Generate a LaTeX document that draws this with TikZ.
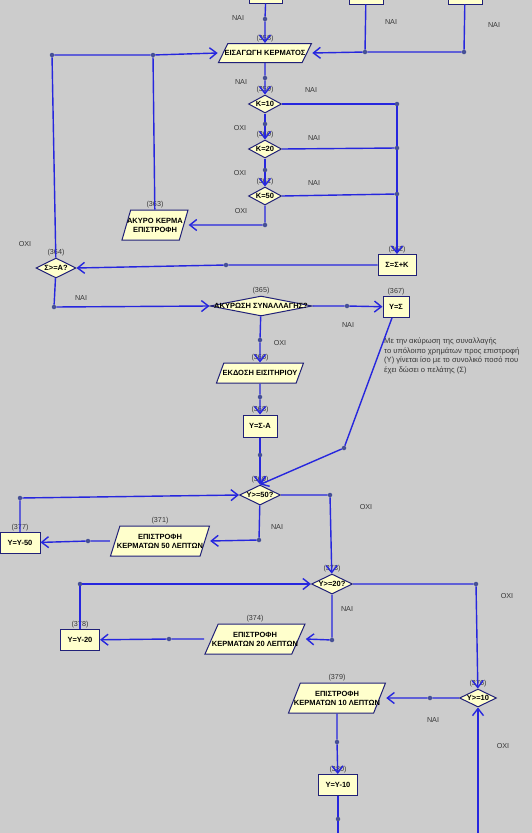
\documentclass[tikz,border=0pt]{standalone}
\usepackage{fontspec}
\setmainfont{Liberation Sans}
\usepackage{tikz}
\usetikzlibrary{arrows.meta, positioning, shapes.geometric}

\definecolor{bgc}{RGB}{204,204,204}
\definecolor{linec}{RGB}{38,38,222}
\definecolor{edgec}{RGB}{32,32,120}
\definecolor{fillc}{RGB}{255,255,204}
\definecolor{dotc}{RGB}{70,80,150}
\definecolor{numc}{RGB}{55,55,55}

\begin{document}
\begin{tikzpicture}[
    x=1pt, y=-1pt,
    proc/.style={rectangle, draw=edgec, fill=fillc, line width=1pt, inner sep=0pt, minimum width=#1, minimum height=21pt, font=\fontsize{7.5}{8.5}\selectfont\bfseries},
    io/.style 2 args={trapezium, trapezium left angle=#1, trapezium right angle=#2, trapezium stretches body, draw=edgec, fill=fillc, line width=1pt, inner xsep=-30pt, inner ysep=1pt, align=center, font=\fontsize{7.5}{9}\selectfont\bfseries},
    cond/.style={diamond, aspect=2, draw=edgec, fill=fillc, line width=1pt, inner sep=-12pt, font=\fontsize{7.5}{8.5}\selectfont\bfseries},
    joint/.style={circle, fill=dotc, inner sep=0pt, minimum size=4.5pt},
    num/.style={font=\fontsize{7.2}{8}\selectfont, text=numc, inner sep=1pt},
    branch/.style={font=\fontsize{7.2}{8}\selectfont, text=numc},
    note/.style={font=\fontsize{7.6}{9.5}\selectfont, text=numc, align=left, inner sep=0pt},
    flow/.style={draw=linec, line width=1.4pt},
    flowarr/.style={flow, -{Straight Barb[length=7pt, width=11pt]}},
]
\fill[bgc] (0,0) rectangle (532,833);
\useasboundingbox (0,0) rectangle (532,833);

% Nodes
\node[proc=33pt, minimum height=22pt] (top1) at (266,-8) {};
\node[proc=34pt, minimum height=22pt] (top2) at (366,-7) {};
\node[proc=34pt, minimum height=22pt] (top3) at (465,-7) {};

\node[io={38}{142}, minimum width=93pt, minimum height=19pt, label={[num]above:(358)}] (coin) at (265,53) {ΕΙΣΑΓΩΓΗ ΚΕΡΜΑΤΟΣ};
\node[cond, minimum width=33pt, minimum height=18pt, label={[num]above:(359)}] (k10) at (265,104) {Κ=10};
\node[cond, minimum width=33pt, minimum height=18pt, label={[num]above:(360)}] (k20) at (265,149) {Κ=20};
\node[cond, minimum width=33pt, minimum height=18pt, label={[num]above:(361)}] (k50) at (265,196) {Κ=50};
\node[io={62}{118}, minimum width=66pt, minimum height=30pt, label={[num]above:(363)}] (badcoin) at (155,225) {ΑΚΥΡΟ ΚΕΡΜΑ\\ΕΠΙΣΤΡΟΦΗ};
\node[proc=38pt, label={[num]above:(362)}] (sum) at (397,265) {Σ=Σ+Κ};
\node[cond, minimum width=40pt, minimum height=20pt, label={[num]above:(364)}] (enough) at (56,268) {Σ>=Α?};
\node[cond, minimum width=102pt, minimum height=20pt, label={[num]above:(365)}] (cancel) at (261,306) {ΑΚΥΡΩΣΗ ΣΥΝΑΛΛΑΓΗΣ?};
\node[proc=26pt, label={[num]above:(367)}] (refund) at (396,307) {Υ=Σ};
\node[io={45}{135}, minimum width=87pt, minimum height=20pt, label={[num]above:(366)}] (ticket) at (260,373) {ΕΚΔΟΣΗ ΕΙΣΙΤΗΡΙΟΥ};
\node[proc=34pt, minimum height=22pt, label={[num]above:(368)}] (change) at (260,426) {Υ=Σ-Α};
\node[cond, minimum width=41pt, minimum height=20pt, label={[num]above:(369)}] (c50) at (260,495) {Υ>=50?};
\node[io={60}{120}, minimum width=99pt, minimum height=30pt, label={[num]above:(371)}] (out50) at (160,541) {ΕΠΙΣΤΡΟΦΗ\\ΚΕΡΜΑΤΩΝ 50 ΛΕΠΤΩΝ};
\node[proc=40pt, label={[num]above:(377)}] (sub50) at (20,543) {Υ=Υ-50};
\node[cond, minimum width=41pt, minimum height=20pt, label={[num]above:(373)}] (c20) at (332,584) {Υ>=20?};
\node[io={51}{129}, minimum width=100pt, minimum height=30pt, label={[num]above:(374)}] (out20) at (255,639) {ΕΠΙΣΤΡΟΦΗ\\ΚΕΡΜΑΤΩΝ 20 ΛΕΠΤΩΝ};
\node[proc=39pt, label={[num]above:(378)}] (sub20) at (80,640) {Υ=Υ-20};
\node[cond, minimum width=37pt, minimum height=18pt, label={[num]above:(376)}] (c10) at (478,698) {Υ>=10};
\node[io={54}{126}, minimum width=97pt, minimum height=30pt, label={[num]above:(379)}] (out10) at (337,698) {ΕΠΙΣΤΡΟΦΗ\\ΚΕΡΜΑΤΩΝ 10 ΛΕΠΤΩΝ};
\node[proc=39pt, label={[num]above:(380)}] (sub10) at (338,785) {Υ=Υ-10};

\node[note, anchor=north west] (memo) at (384,338) {Με την ακύρωση της συναλλαγής\\το υπόλοιπο χρημάτων προς επιστροφή\\(Υ) γίνεται ίσο με το συνολικό ποσό που\\έχει δώσει ο πελάτης (Σ)};

% Joints
\node[joint] (j1) at (265,19) {};
\node[joint] (j2) at (365,52) {};
\node[joint] (j3) at (464,52) {};
\node[joint] (j4) at (153,55) {};
\node[joint] (j5) at (52,55) {};
\node[joint] (j6) at (265,78) {};
\node[joint] (j7) at (265,124) {};
\node[joint] (j8) at (265,170) {};
\node[joint] (j9) at (265,225) {};
\node[joint] (j10) at (397,104) {};
\node[joint] (j11) at (397,148) {};
\node[joint] (j12) at (397,194) {};
\node[joint] (j13) at (226,265) {};
\node[joint] (j14) at (54,307) {};
\node[joint] (j15) at (347,306) {};
\node[joint] (j16) at (260,340) {};
\node[joint] (j17) at (260,397) {};
\node[joint] (j18) at (260,455) {};
\node[joint] (j19) at (344,448) {};
\node[joint] (j20) at (20,498) {};
\node[joint] (j21) at (259,540) {};
\node[joint] (j22) at (88,541) {};
\node[joint] (j23) at (330,495) {};
\node[joint] (j24) at (80,584) {};
\node[joint] (j25) at (332,640) {};
\node[joint] (j26) at (169,639) {};
\node[joint] (j27) at (476,584) {};
\node[joint] (j28) at (430,698) {};
\node[joint] (j29) at (337,742) {};
\node[joint] (j30) at (338,819) {};
\coordinate (end1) at (338,840);
\coordinate (end2) at (478,840);

% Branch labels
\node[branch] (b1) at (238,18) {ΝΑΙ};
\node[branch] (b2) at (391,22) {ΝΑΙ};
\node[branch] (b3) at (494,25) {ΝΑΙ};
\node[branch] (b4) at (241,82) {ΝΑΙ};
\node[branch] (b5) at (311,90) {ΝΑΙ};
\node[branch] (b6) at (240,128) {ΟΧΙ};
\node[branch] (b7) at (314,138) {ΝΑΙ};
\node[branch] (b8) at (240,173) {ΟΧΙ};
\node[branch] (b9) at (314,183) {ΝΑΙ};
\node[branch] (b10) at (241,211) {ΟΧΙ};
\node[branch] (b11) at (25,244) {ΟΧΙ};
\node[branch] (b12) at (81,298) {ΝΑΙ};
\node[branch] (b13) at (348,325) {ΝΑΙ};
\node[branch] (b14) at (280,343) {ΟΧΙ};
\node[branch] (b15) at (366,507) {ΟΧΙ};
\node[branch] (b16) at (277,527) {ΝΑΙ};
\node[branch] (b17) at (507,596) {ΟΧΙ};
\node[branch] (b18) at (347,609) {ΝΑΙ};
\node[branch] (b19) at (433,720) {ΝΑΙ};
\node[branch] (b20) at (503,746) {ΟΧΙ};

% Arrows
\draw[flowarr] (top1) -- (j1) -- (coin);
\draw[flow] (top2) -- (j2);
\draw[flowarr] (top3) -- (j3) -- (j2) -- (coin.east -| coin.top right corner);
\draw[flowarr] (enough) -- (j5) -- (j4) -- (coin.west -| coin.bottom left corner);
\draw[flow] (badcoin) -- (j4);
\draw[flowarr] (coin) -- (j6) -- (k10);
\draw[flowarr] (k10) -- (j7) -- (k20);
\draw[flowarr] (k20) -- (j8) -- (k50);
\draw[flowarr] (k50) -- (j9) -- (badcoin.east -| badcoin.top right corner);
\draw[flow] (k10.east) -- (j10);
\draw[flow] (k20.east) -- (j11);
\draw[flow] (k50.east) -- (j12);
\draw[flowarr] (j10) -- (j11) -- (j12) -- (sum);
\draw[flowarr] (sum) -- (j13) -- (enough.east);
\draw[flowarr] (enough) -- (j14) -- (cancel.west);
\draw[flowarr] (cancel.east) -- (j15) -- (refund);
\draw[flowarr] (cancel) -- (j16) -- (ticket);
\draw[flowarr] (ticket) -- (j17) -- (change);
\draw[flowarr] (change) -- (j18) -- (c50);
\draw[flowarr] (refund) -- (j19) -- (c50.north);
\draw[flowarr] (sub50) -- (j20) -- (c50.west);
\draw[flowarr] (c50) -- (j21) -- (out50.east -| out50.top right corner);
\draw[flowarr] (out50.west -| out50.bottom left corner) -- (j22) -- (sub50);
\draw[flowarr] (c50.east) -- (j23) -- (c20);
\draw[flowarr] (sub20) -- (j24) -- (c20.west);
\draw[flowarr] (c20) -- (j25) -- (out20.east -| out20.top right corner);
\draw[flowarr] (out20.west -| out20.bottom left corner) -- (j26) -- (sub20);
\draw[flowarr] (c20.east) -- (j27) -- (c10);
\draw[flowarr] (c10.west) -- (j28) -- (out10.east -| out10.top right corner);
\draw[flowarr] (out10) -- (j29) -- (sub10);
\draw[flow] (sub10) -- (j30) -- (end1);
\draw[flowarr] (end2) -- (c10.south);

\end{tikzpicture}
\end{document}
